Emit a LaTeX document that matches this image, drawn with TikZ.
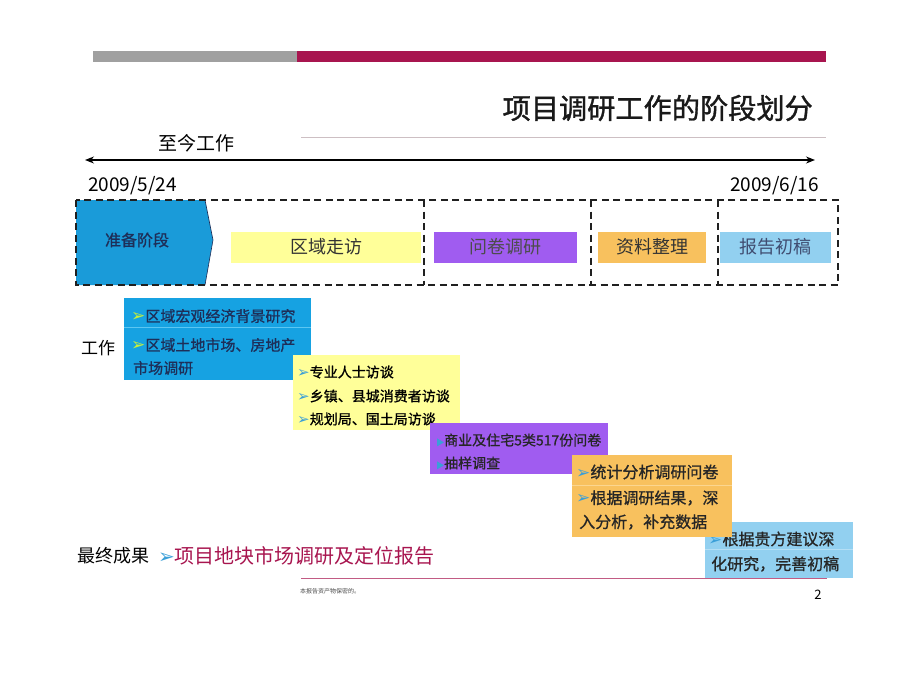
\documentclass[tikz,border=0pt]{standalone}
\usepackage{fontspec}
\setmainfont{Noto Sans CJK SC}
\newfontfamily\boldish[FakeBold=0.9]{Noto Sans CJK SC}
\newfontfamily\titlef[FakeBold=1.2]{Noto Sans CJK SC}
\newfontfamily\symf{DejaVu Sans}
\usetikzlibrary{arrows.meta}
\definecolor{bargray}{HTML}{A0A0A0}
\definecolor{crimson}{HTML}{A8154F}
\definecolor{tline}{HTML}{CDBFC3}
\definecolor{pentblue}{HTML}{1A9BD9}
\definecolor{navy}{HTML}{1E2E58}
\definecolor{bluebox}{HTML}{16A2E2}
\definecolor{bluesep}{HTML}{5CC6F2}
\definecolor{yel}{HTML}{FFFF99}
\definecolor{purp}{HTML}{A05CF0}
\definecolor{orng}{HTML}{F8C15E}
\definecolor{orsep}{HTML}{FBD690}
\definecolor{lblue}{HTML}{92D0F0}
\definecolor{lbsep}{HTML}{B5DFF5}
\definecolor{bulg}{HTML}{C8F03A}
\definecolor{bulb}{HTML}{3A9FD8}
\definecolor{dash}{HTML}{202020}
\newcommand{\bul}[2][17]{{\symf\color{#2}\fontsize{#1}{#1}\selectfont ➢}}
\newcommand{\fs}[1]{\fontsize{#1}{#1}\selectfont}
\begin{document}
\begin{tikzpicture}[x=1pt,y=-1pt,
  box/.style={inner sep=0pt, anchor=north west, draw=none},
  txt/.style={inner sep=0pt, anchor=west},
  phase/.style={inner sep=0pt, minimum height=31pt, font=\fs{18}, text=black!80},
  dashbox/.style={draw=dash, line width=1.6pt, dash pattern=on 7pt off 4.5pt}]
\path[use as bounding box, fill=white] (0,0) rectangle (920,690);
% top bar
\fill[bargray] (93,51) rectangle (297,62);
\fill[crimson] (297,51) rectangle (826,62);
% title
\node[anchor=east, inner sep=0pt, font=\titlef\fs{28.2}, text=black!90] (title) at (813,108) {项目调研工作的阶段划分};
\draw[tline, line width=1pt] (301,137) -- (826,137);
\node[inner sep=0pt, font=\fs{19}] (sofar) at (196,143) {至今工作};
\coordinate (al) at (85,160);
\coordinate (ar) at (815,160);
\draw[{Stealth[length=9pt,width=7pt]}-{Stealth[length=9pt,width=7pt]}, line width=1.3pt] (al) -- (ar);
\node[txt, font=\fs{19}] (d1) at (88,186) {2009/5/24};
\node[inner sep=0pt, anchor=east, font=\fs{19}] (d2) at (819,186) {2009/6/16};
% pentagon
\fill[pentblue] (76,200) -- (205,200) -- (213,240) -- (205,285) -- (76,285) -- cycle;
\draw[navy, line width=0.6pt] (205,200) -- (213,240) -- (205,285);
\node[inner sep=0pt, font=\boldish\fs{16}, text=navy] (prep) at (137,240) {准备阶段};
% dashed frames
\draw[dashbox] (76,200) rectangle (838,285);
\draw[dashbox] (424,200) -- (424,285);
\draw[dashbox] (591,200) -- (591,285);
\draw[dashbox] (718,200) -- (718,285);
% phases
\node[phase, fill=yel, minimum width=190pt] (p1) at (326,247) {区域走访};
\node[phase, fill=purp, minimum width=143pt, text=black!70] (p2) at (505.5,247) {问卷调研};
\node[phase, fill=orng, minimum width=108pt] (p3) at (652,247) {资料整理};
\node[phase, fill=lblue, minimum width=111pt, text=navy!85] (p4) at (775.5,247) {报告初稿};
% label
\node[inner sep=0pt, font=\fs{17}] (work) at (98,348) {工作};
% final result
\node[txt, font=\fs{18}] (final) at (77,556) {最终成果};
\node[txt, font=\fs{20}, text=crimson] (report) at (158,556) {\bul[20]{bulb}项目地块市场调研及定位报告};
\draw[crimson!70, line width=1pt] (301,578) -- (827,578);
% box 1
\node[box, fill=bluebox, minimum width=187pt, minimum height=82pt] (b1) at (124,298) {};
\draw[bluesep, line width=0.8pt] (124,327) -- (311,327);
\node[txt, font=\boldish\fs{15}, text=navy] (b1a) at (131,316) {\bul{bulg}区域宏观经济背景研究};
\node[txt, font=\boldish\fs{15}, text=navy] (b1b) at (131,345) {\bul{bulg}区域土地市场、房地产};
\node[txt, font=\boldish\fs{15}, text=navy] (b1c) at (133,368) {市场调研};
% box 2
\node[box, fill=yel, minimum width=167pt, minimum height=75pt] (b2) at (293,355) {};
\node[txt, font=\boldish\fs{14}] (b2a) at (297,372) {\bul[15]{bulb}专业人士访谈};
\node[txt, font=\boldish\fs{14}] (b2b) at (297,396) {\bul[15]{bulb}乡镇、县城消费者访谈};
\node[txt, font=\boldish\fs{14}] (b2c) at (297,419) {\bul[15]{bulb}规划局、国土局访谈};
% box 3
\node[box, fill=purp, minimum width=178pt, minimum height=51pt] (b3) at (430,423) {};
\node[txt, font=\boldish\fs{14}, text=black!85] (b3a) at (436,440) {{\color{bulb}\fs{8}▶}商业及住宅5类517份问卷};
\node[txt, font=\boldish\fs{14}, text=black!85] (b3b) at (436,463) {{\color{bulb}\fs{8}▶}抽样调查};
% box 5
\node[box, fill=lblue, minimum width=148pt, minimum height=56pt] (b5) at (705,522) {};
\draw[lbsep, line width=0.8pt] (705,549) -- (853,549);
\node[txt, font=\boldish\fs{16}, text=black!85] (b5a) at (708,539) {\bul{bulb}根据贵方建议深};
\node[txt, font=\boldish\fs{16}, text=black!85] (b5b) at (711,564) {化研究，完善初稿};
% box 4
\node[box, fill=orng, minimum width=160pt, minimum height=82pt] (b4) at (572,455) {};
\draw[orsep, line width=0.8pt] (572,485) -- (732,485);
\node[txt, font=\boldish\fs{16}, text=black!85] (b4a) at (576,472) {\bul{bulb}统计分析调研问卷};
\node[txt, font=\boldish\fs{16}, text=black!85] (b4b) at (576,498) {\bul{bulb}根据调研结果，深};
\node[txt, font=\boldish\fs{16}, text=black!85] (b4c) at (579,522) {入分析，补充数据};
% footer
\node[txt, font=\fs{6}, text=black!70] (foot) at (300,591) {本报告资产物保密的。};
\node[inner sep=0pt, font=\fs{13}] (pg) at (818,595) {2};
\end{tikzpicture}
\end{document}
